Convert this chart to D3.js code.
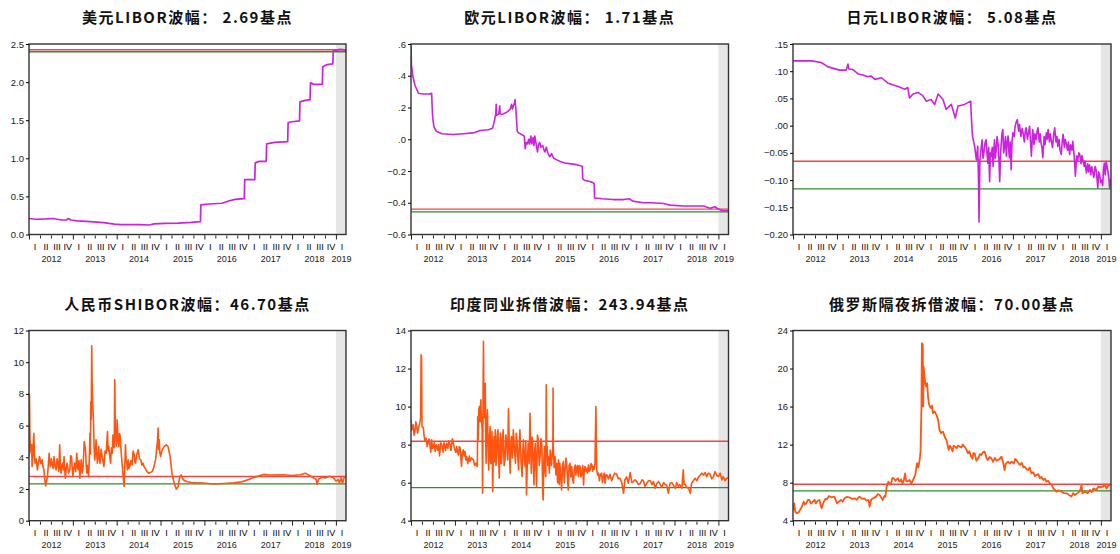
<!DOCTYPE html>
<html>
<head>
<meta charset="utf-8">
<script src="https://cdn.jsdelivr.net/npm/d3@7"></script>
<style>
  body { margin: 0; background: #fff; }
  .tick text { font-family: "Liberation Sans", Arial, sans-serif; fill: #222; }
  .title { font-family: "Noto Sans CJK SC", sans-serif; font-weight: 700; font-size: 15px; fill: #111; }
</style>
</head>
<body>
<svg id="chart"></svg>
<script>
var svgWidth = 1120;
var svgHeight = 554;

// ---- data (decimal year, rate %) ----
var titles = ["美元LIBOR波幅： 2.69基点", "欧元LIBOR波幅： 1.71基点", "日元LIBOR波幅： 5.08基点",
              "人民币SHIBOR波幅：46.70基点", "印度同业拆借波幅：243.94基点", "俄罗斯隔夜拆借波幅：70.00基点"];

// [max, min] of the shaded 2019 window
var usdBand = [2.425, 2.398];
var eurBand = [-0.440, -0.457];
var jpyBand = [-0.0655, -0.1163];
var cnyBand = [2.785, 2.318];
var inrBand = [8.18, 5.74];
var rubBand = [7.83, 7.13];

var usdLibor = [[2012.00,0.21],[2012.15,0.20],[2012.40,0.205],[2012.55,0.21],[2012.75,0.19],[2012.85,0.19],[2012.90,0.21],
  [2012.95,0.19],[2013.10,0.18],[2013.40,0.17],[2013.70,0.155],[2013.95,0.135],[2014.10,0.13],[2014.50,0.13],[2014.75,0.125],
  [2014.85,0.14],[2015.10,0.145],[2015.40,0.15],[2015.70,0.16],[2015.91,0.17],[2015.92,0.39],[2016.10,0.40],[2016.40,0.41],
  [2016.55,0.44],[2016.70,0.46],[2016.91,0.47],[2016.92,0.72],[2017.15,0.72],[2017.16,0.94],[2017.25,0.96],[2017.41,0.96],
  [2017.42,1.19],[2017.60,1.21],[2017.90,1.22],[2017.91,1.47],[2018.00,1.48],[2018.17,1.49],[2018.18,1.74],[2018.30,1.76],
  [2018.41,1.77],[2018.42,1.99],[2018.50,1.97],[2018.69,1.97],[2018.70,2.20],[2018.80,2.23],[2018.93,2.24],[2018.94,2.41],
  [2019.00,2.42],[2019.10,2.43],[2019.23,2.42]];

var eurLibor = [[2012.00,0.59],[2012.01,0.47],[2012.04,0.40],[2012.09,0.34],[2012.17,0.29],[2012.28,0.285],[2012.43,0.285],
  [2012.47,0.29],[2012.49,0.15],[2012.52,0.08],[2012.58,0.05],[2012.70,0.035],[2012.96,0.03],[2013.19,0.035],[2013.42,0.04],
  [2013.57,0.055],[2013.76,0.06],[2013.86,0.07],[2013.91,0.13],[2013.93,0.16],[2013.94,0.22],[2013.95,0.15],[2014.00,0.16],
  [2014.02,0.21],[2014.03,0.16],[2014.07,0.155],[2014.18,0.17],[2014.26,0.19],[2014.29,0.22],[2014.31,0.19],[2014.33,0.21],
  [2014.36,0.23],[2014.37,0.25],[2014.39,0.18],[2014.42,0.05],[2014.45,0.04],[2014.52,0.03],[2014.58,0.02],[2014.60,-0.06],
  [2014.62,-0.02],[2014.65,-0.03],[2014.68,0.0],[2014.70,-0.03],[2014.73,0.02],[2014.75,-0.03],[2014.78,0.01],[2014.80,-0.04],
  [2014.82,0.02],[2014.85,-0.03],[2014.88,-0.08],[2014.90,-0.04],[2014.93,-0.02],[2014.96,-0.05],[2015.00,-0.04],[2015.03,-0.07],
  [2015.05,-0.08],[2015.08,-0.05],[2015.12,-0.09],[2015.16,-0.11],[2015.20,-0.09],[2015.25,-0.12],[2015.32,-0.13],[2015.40,-0.14],
  [2015.50,-0.15],[2015.65,-0.155],[2015.77,-0.16],[2015.90,-0.17],[2015.91,-0.25],[2015.96,-0.26],[2016.05,-0.265],[2016.12,-0.27],
  [2016.17,-0.28],[2016.18,-0.37],[2016.35,-0.375],[2016.60,-0.38],[2016.84,-0.38],[2016.97,-0.375],[2017.05,-0.39],[2017.29,-0.40],
  [2017.50,-0.40],[2017.75,-0.405],[2017.90,-0.415],[2018.20,-0.42],[2018.66,-0.42],[2018.81,-0.435],[2018.92,-0.425],[2019.00,-0.44],
  [2019.10,-0.45],[2019.23,-0.45]];

var jpyLibor = [[2012.00,0.119],[2012.42,0.119],[2012.64,0.116],[2012.80,0.108],[2013.06,0.102],[2013.21,0.102],[2013.25,0.113],
  [2013.27,0.104],[2013.36,0.103],[2013.48,0.095],[2013.59,0.093],[2013.70,0.090],[2013.78,0.091],[2013.86,0.085],[2014.01,0.088],
  [2014.16,0.078],[2014.39,0.072],[2014.54,0.067],[2014.61,0.070],[2014.65,0.051],[2014.73,0.058],[2014.84,0.061],[2014.95,0.055],
  [2015.03,0.045],[2015.14,0.048],[2015.22,0.039],[2015.30,0.058],[2015.41,0.048],[2015.48,0.030],[2015.60,0.039],[2015.69,0.014],
  [2015.75,0.036],[2015.90,0.039],[2016.04,0.045],[2016.05,0.024],[2016.08,-0.019],[2016.13,-0.038],[2016.17,-0.063],[2016.20,-0.038],
  [2016.22,-0.112],[2016.23,-0.177],[2016.25,-0.063],[2016.28,-0.040],[2016.30,-0.026],[2016.32,-0.060],[2016.34,-0.050],[2016.37,-0.030],
  [2016.39,-0.026],[2016.41,-0.050],[2016.43,-0.069],[2016.45,-0.040],[2016.47,-0.103],[2016.49,-0.050],[2016.51,-0.056],[2016.53,-0.040],
  [2016.55,-0.075],[2016.57,-0.040],[2016.58,-0.026],[2016.60,-0.060],[2016.62,-0.044],[2016.64,-0.020],[2016.66,-0.032],[2016.68,-0.060],
  [2016.70,-0.103],[2016.72,-0.050],[2016.73,-0.038],[2016.75,-0.015],[2016.77,-0.007],[2016.79,-0.050],[2016.81,-0.038],[2016.83,-0.020],
  [2016.85,-0.056],[2016.87,-0.030],[2016.89,-0.019],[2016.91,-0.050],[2016.92,-0.059],[2016.94,-0.030],[2016.96,-0.081],[2016.98,-0.030],
  [2017.00,-0.013],[2017.03,-0.020],[2017.05,-0.001],[2017.08,0.008],[2017.10,0.011],[2017.13,-0.010],[2017.15,0.002],[2017.18,-0.020],
  [2017.21,-0.005],[2017.23,-0.013],[2017.26,-0.030],[2017.28,-0.010],[2017.30,-0.004],[2017.33,-0.025],[2017.36,-0.010],[2017.38,-0.001],
  [2017.40,-0.030],[2017.42,-0.056],[2017.45,-0.007],[2017.48,-0.035],[2017.50,-0.015],[2017.53,-0.026],[2017.55,-0.010],[2017.57,-0.004],
  [2017.60,-0.030],[2017.62,-0.015],[2017.64,-0.032],[2017.66,-0.040],[2017.68,-0.059],[2017.71,-0.020],[2017.73,-0.035],[2017.76,-0.013],
  [2017.78,-0.025],[2017.80,-0.007],[2017.83,-0.030],[2017.85,-0.015],[2017.87,-0.026],[2017.90,-0.040],[2017.93,-0.015],[2017.95,-0.004],
  [2017.98,-0.030],[2018.00,-0.020],[2018.02,-0.038],[2018.05,-0.025],[2018.07,-0.045],[2018.10,-0.053],[2018.12,-0.030],[2018.14,-0.016],
  [2018.17,-0.040],[2018.19,-0.025],[2018.21,-0.032],[2018.24,-0.045],[2018.26,-0.030],[2018.29,-0.053],[2018.31,-0.035],[2018.34,-0.045],
  [2018.36,-0.029],[2018.38,-0.045],[2018.40,-0.063],[2018.42,-0.093],[2018.45,-0.056],[2018.47,-0.065],[2018.50,-0.050],[2018.52,-0.053],
  [2018.55,-0.070],[2018.57,-0.055],[2018.59,-0.063],[2018.62,-0.075],[2018.64,-0.065],[2018.67,-0.087],[2018.70,-0.070],[2018.72,-0.085],
  [2018.74,-0.072],[2018.77,-0.090],[2018.79,-0.075],[2018.82,-0.087],[2018.84,-0.095],[2018.87,-0.075],[2018.89,-0.081],[2018.91,-0.095],
  [2018.93,-0.115],[2018.95,-0.085],[2018.97,-0.090],[2019.00,-0.105],[2019.02,-0.100],[2019.04,-0.110],[2019.06,-0.080],[2019.08,-0.069],
  [2019.10,-0.090],[2019.12,-0.066],[2019.14,-0.075],[2019.16,-0.084],[2019.18,-0.095],[2019.20,-0.115],[2019.21,-0.100],[2019.23,-0.110]];

var cnyShibor = [[2012.00,4.05],[2012.01,7.94],[2012.02,5.6],[2012.025,4.89],[2012.04,4.5],[2012.05,4.26],[2012.06,4.8],[2012.07,3.42],
  [2012.09,4.2],[2012.11,5.52],[2012.125,4.1],[2012.14,3.63],[2012.165,3.9],[2012.19,3.21],[2012.215,3.7],[2012.24,4.05],[2012.27,3.6],
  [2012.30,3.84],[2012.32,3.4],[2012.34,3.21],[2012.36,2.6],[2012.38,2.20],[2012.40,2.5],[2012.42,2.79],[2012.44,3.5],[2012.46,4.26],
  [2012.475,3.6],[2012.49,3.42],[2012.51,3.9],[2012.53,3.52],[2012.55,3.3],[2012.57,4.05],[2012.595,3.4],[2012.62,3.21],[2012.64,3.9],
  [2012.66,3.63],[2012.68,3.1],[2012.70,4.79],[2012.715,3.5],[2012.73,3.00],[2012.75,3.5],[2012.77,3.63],[2012.785,3.2],[2012.80,4.05],
  [2012.815,3.2],[2012.83,2.68],[2012.85,3.3],[2012.87,3.63],[2012.90,3.0],[2012.93,3.21],[2012.95,4.1],[2012.97,4.05],[2012.985,3.3],
  [2013.00,2.79],[2013.02,3.3],[2013.04,3.63],[2013.065,3.1],[2013.09,4.26],[2013.105,3.4],[2013.12,3.21],[2013.14,3.8],[2013.16,2.68],
  [2013.175,3.3],[2013.19,3.84],[2013.21,3.0],[2013.23,3.21],[2013.26,5.0],[2013.29,4.47],[2013.305,3.5],[2013.32,3.00],[2013.34,3.5],
  [2013.36,2.79],[2013.375,3.9],[2013.39,5.52],[2013.40,4.2],[2013.41,7.50],[2013.42,6.4],[2013.43,11.04],[2013.44,8.8],[2013.45,7.84],
  [2013.46,7.0],[2013.47,6.37],[2013.485,4.6],[2013.50,3.84],[2013.515,4.4],[2013.53,5.10],[2013.545,4.2],[2013.56,3.63],[2013.575,4.1],
  [2013.59,4.68],[2013.605,3.9],[2013.62,3.63],[2013.645,4.5],[2013.67,4.05],[2013.69,3.7],[2013.71,3.42],[2013.735,4.4],[2013.76,4.26],
  [2013.775,4.9],[2013.79,5.63],[2013.805,4.4],[2013.82,4.68],[2013.84,4.1],[2013.86,3.63],[2013.88,4.6],[2013.90,4.26],[2013.915,5.4],
  [2013.93,5.10],[2013.945,4.6],[2013.956,8.89],[2013.968,5.8],[2013.98,5.31],[2013.995,4.7],[2014.01,6.37],[2014.03,5.1],[2014.05,4.68],
  [2014.065,5.5],[2014.08,5.31],[2014.095,4.6],[2014.11,4.05],[2014.13,3.4],[2014.15,2.68],[2014.17,2.16],[2014.185,3.4],[2014.20,4.79],
  [2014.215,3.8],[2014.23,3.63],[2014.245,3.2],[2014.26,3.84],[2014.28,3.3],[2014.30,3.42],[2014.325,3.8],[2014.35,3.52],[2014.375,4.4],
  [2014.40,4.16],[2014.415,3.7],[2014.43,3.63],[2014.46,4.2],[2014.49,4.47],[2014.52,3.9],[2014.55,3.84],[2014.575,3.5],[2014.60,3.63],
  [2014.625,3.4],[2014.65,3.31],[2014.69,3.1],[2014.73,3.00],[2014.77,3.05],[2014.81,3.10],[2014.84,3.3],[2014.87,3.63],[2014.89,3.9],
  [2014.91,4.47],[2014.93,5.0],[2014.945,5.84],[2014.955,4.5],[2014.97,5.10],[2014.985,4.3],[2015.00,4.05],[2015.02,4.3],[2015.04,4.47],
  [2015.08,4.68],[2015.13,4.79],[2015.17,4.68],[2015.22,4.05],[2015.26,3.00],[2015.31,2.37],[2015.36,1.99],[2015.40,2.16],[2015.44,2.79],
  [2015.47,2.89],[2015.52,2.58],[2015.59,2.47],[2015.70,2.41],[2015.86,2.37],[2015.90,2.39],[2016.21,2.32],[2016.45,2.35],[2016.67,2.39],
  [2016.85,2.45],[2017.01,2.60],[2017.15,2.75],[2017.35,2.92],[2017.50,2.88],[2017.81,2.90],[2018.00,2.85],[2018.19,2.90],[2018.30,3.00],
  [2018.40,2.85],[2018.46,2.75],[2018.55,2.60],[2018.57,2.30],[2018.60,2.60],[2018.68,2.75],[2018.76,2.70],[2018.85,2.80],[2018.95,2.70],
  [2019.00,2.50],[2019.05,2.60],[2019.08,2.40],[2019.12,2.70],[2019.15,2.35],[2019.19,2.75],[2019.23,2.80]];

var inrCall = [[2012.00,9.30],[2012.02,8.78],[2012.05,9.04],[2012.07,8.5],[2012.09,8.69],[2012.11,9.2],[2012.13,8.95],[2012.15,8.6],
  [2012.17,8.86],[2012.19,9.04],[2012.22,9.39],[2012.23,12.72],[2012.24,12.64],[2012.25,8.95],[2012.28,8.9],[2012.30,8.43],[2012.32,8.2],
  [2012.34,8.34],[2012.37,7.9],[2012.39,8.16],[2012.41,8.3],[2012.43,7.99],[2012.45,7.6],[2012.47,8.25],[2012.49,7.8],[2012.51,7.90],
  [2012.53,8.1],[2012.55,7.64],[2012.58,7.99],[2012.61,7.7],[2012.63,8.0],[2012.65,7.41],[2012.68,8.1],[2012.70,7.99],[2012.73,7.6],
  [2012.75,8.1],[2012.77,7.90],[2012.79,7.7],[2012.81,8.07],[2012.84,7.8],[2012.86,8.2],[2012.89,7.99],[2012.91,7.7],[2012.94,8.3],
  [2012.96,8.11],[2012.98,7.9],[2013.00,7.72],[2013.02,7.6],[2013.04,7.90],[2013.06,7.6],[2013.08,7.46],[2013.10,7.9],[2013.12,7.81],
  [2013.135,7.3],[2013.15,6.85],[2013.17,7.6],[2013.19,7.72],[2013.21,7.4],[2013.23,7.64],[2013.25,7.2],[2013.27,7.37],[2013.29,7.0],
  [2013.31,7.20],[2013.33,7.4],[2013.34,7.11],[2013.38,7.3],[2013.42,7.20],[2013.45,6.9],[2013.48,7.02],[2013.51,6.85],[2013.52,9.48],
  [2013.53,8.25],[2013.545,9.9],[2013.56,10.0],[2013.575,9.2],[2013.59,10.36],[2013.60,9.6],[2013.62,8.78],[2013.63,5.44],[2013.64,10.2],
  [2013.65,13.43],[2013.66,10.53],[2013.675,9.4],[2013.69,11.23],[2013.70,8.6],[2013.71,7.02],[2013.725,9.1],[2013.74,9.83],[2013.755,7.9],
  [2013.77,6.67],[2013.785,8.3],[2013.80,8.95],[2013.815,7.0],[2013.83,7.37],[2013.845,8.7],[2013.86,5.53],[2013.875,7.6],[2013.89,8.43],
  [2013.905,7.1],[2013.92,8.78],[2013.935,6.9],[2013.95,7.37],[2013.965,8.5],[2013.98,8.78],[2013.995,7.5],[2014.01,6.23],[2014.025,7.9],
  [2014.04,8.60],[2014.055,7.0],[2014.07,7.37],[2014.085,8.4],[2014.10,8.78],[2014.12,6.9],[2014.14,7.20],[2014.16,8.5],[2014.18,8.07],
  [2014.20,7.2],[2014.22,9.88],[2014.24,7.6],[2014.26,6.50],[2014.275,8.1],[2014.29,8.43],[2014.31,7.3],[2014.33,8.78],[2014.355,7.8],
  [2014.38,7.02],[2014.395,8.6],[2014.41,8.25],[2014.43,7.4],[2014.45,6.67],[2014.465,8.0],[2014.48,8.78],[2014.505,7.1],[2014.53,6.32],
  [2014.545,7.6],[2014.56,8.25],[2014.58,7.3],[2014.60,6.85],[2014.615,8.2],[2014.63,5.36],[2014.65,7.2],[2014.67,8.07],[2014.69,7.0],
  [2014.71,9.65],[2014.725,7.9],[2014.74,6.50],[2014.755,8.4],[2014.77,8.07],[2014.785,7.0],[2014.80,5.88],[2014.815,7.6],[2014.83,8.07],
  [2014.845,6.8],[2014.86,5.79],[2014.88,8.5],[2014.90,8.25],[2014.92,6.9],[2014.94,7.37],[2014.96,8.3],[2014.98,7.99],[2015.00,5.44],
  [2015.01,5.09],[2015.025,7.2],[2015.04,7.90],[2015.055,6.6],[2015.07,6.32],[2015.08,11.15],[2015.09,7.6],[2015.10,7.90],[2015.115,6.9],
  [2015.13,7.37],[2015.15,6.5],[2015.17,7.72],[2015.20,6.9],[2015.23,7.90],[2015.235,10.97],[2015.24,7.90],[2015.26,6.8],[2015.28,7.37],
  [2015.30,6.4],[2015.32,7.02],[2015.34,6.0],[2015.36,7.20],[2015.375,5.9],[2015.39,7.02],[2015.41,6.3],[2015.43,5.62],[2015.45,6.9],
  [2015.47,7.11],[2015.49,6.0],[2015.51,6.67],[2015.53,7.3],[2015.55,6.85],[2015.565,6.2],[2015.58,5.62],[2015.60,6.9],[2015.62,7.02],
  [2015.64,6.3],[2015.66,6.85],[2015.68,6.2],[2015.70,5.97],[2015.72,6.8],[2015.74,6.93],[2015.755,6.4],[2015.77,6.76],[2015.79,6.9],
  [2015.81,6.32],[2015.83,6.9],[2015.85,6.85],[2015.87,6.3],[2015.89,6.50],[2015.91,6.9],[2015.93,5.88],[2015.945,6.7],[2015.96,6.85],
  [2015.98,6.6],[2016.00,6.76],[2016.02,6.5],[2016.04,6.93],[2016.06,6.6],[2016.08,6.67],[2016.10,7.0],[2016.12,6.93],[2016.135,6.6],
  [2016.15,6.85],[2016.17,6.7],[2016.19,7.02],[2016.21,10.00],[2016.23,6.67],[2016.25,6.4],[2016.27,6.50],[2016.29,6.1],[2016.31,6.41],
  [2016.34,6.50],[2016.36,6.0],[2016.38,6.32],[2016.40,6.5],[2016.42,5.97],[2016.44,6.4],[2016.46,6.41],[2016.50,6.2],[2016.53,6.44],
  [2016.57,6.1],[2016.60,6.30],[2016.64,6.5],[2016.68,6.46],[2016.72,6.2],[2016.76,6.23],[2016.80,6.0],[2016.84,5.44],[2016.87,6.14],
  [2016.91,6.3],[2016.95,5.97],[2016.99,6.53],[2017.03,6.0],[2017.06,6.06],[2017.10,6.15],[2017.14,6.06],[2017.18,5.9],[2017.22,5.95],
  [2017.26,6.15],[2017.29,6.11],[2017.33,5.8],[2017.37,5.97],[2017.41,6.1],[2017.45,6.10],[2017.49,5.9],[2017.52,6.06],[2017.56,5.71],
  [2017.60,5.97],[2017.64,6.05],[2017.67,5.93],[2017.71,5.75],[2017.75,6.00],[2017.79,5.9],[2017.82,5.88],[2017.86,5.44],[2017.90,5.97],
  [2017.94,6.0],[2017.98,5.85],[2018.02,5.7],[2018.05,6.00],[2018.09,5.8],[2018.12,5.90],[2018.17,5.71],[2018.20,6.67],[2018.22,5.9],
  [2018.24,5.93],[2018.28,5.75],[2018.32,5.71],[2018.36,5.44],[2018.39,5.97],[2018.43,6.1],[2018.47,6.23],[2018.51,6.1],[2018.55,6.32],
  [2018.59,6.4],[2018.62,6.50],[2018.66,6.4],[2018.70,6.53],[2018.73,6.32],[2018.77,6.5],[2018.81,6.46],[2018.85,6.2],[2018.89,6.32],
  [2018.92,6.58],[2018.96,6.4],[2019.00,6.32],[2019.04,6.5],[2019.08,6.14],[2019.11,6.32],[2019.15,6.1],[2019.19,6.23],[2019.23,6.25]];

var rubOvernight = [[2012.00,5.12],[2012.03,5.82],[2012.05,4.95],[2012.09,4.77],[2012.14,4.95],[2012.20,5.47],[2012.24,6.00],
  [2012.27,5.7],[2012.30,5.82],[2012.34,6.2],[2012.37,6.18],[2012.41,5.8],[2012.45,6.00],[2012.49,6.2],[2012.52,5.82],[2012.56,6.1],
  [2012.60,6.18],[2012.65,5.30],[2012.70,6.00],[2012.74,6.3],[2012.77,6.25],[2012.82,6.6],[2012.87,6.46],[2012.94,6.53],[2013.00,5.82],
  [2013.04,6.00],[2013.09,6.18],[2013.13,6.0],[2013.17,6.35],[2013.22,6.5],[2013.28,6.46],[2013.34,6.3],[2013.40,6.35],[2013.45,6.2],
  [2013.51,6.53],[2013.57,6.3],[2013.62,6.35],[2013.67,6.1],[2013.72,6.18],[2013.74,5.47],[2013.78,6.25],[2013.84,6.4],[2013.89,6.53],
  [2013.93,6.8],[2013.97,6.70],[2014.01,6.4],[2014.04,6.18],[2014.08,6.6],[2014.10,6.53],[2014.13,7.58],[2014.17,8.11],[2014.20,7.8],
  [2014.23,7.93],[2014.26,8.5],[2014.29,8.46],[2014.33,8.2],[2014.38,8.46],[2014.42,8.11],[2014.46,8.35],[2014.49,7.9],[2014.52,8.28],
  [2014.55,8.98],[2014.57,8.2],[2014.60,8.11],[2014.65,8.28],[2014.69,7.9],[2014.73,8.28],[2014.78,8.81],[2014.82,10.04],[2014.85,9.6],
  [2014.88,10.39],[2014.90,11.26],[2014.92,16.00],[2014.93,22.67],[2014.95,22.49],[2014.96,16.00],[2014.97,20.21],[2014.99,19.16],
  [2015.01,18.3],[2015.03,18.11],[2015.05,18.46],[2015.07,17.05],[2015.09,16.3],[2015.11,16.00],[2015.14,15.82],[2015.16,16.1],
  [2015.18,15.30],[2015.22,15.5],[2015.26,15.12],[2015.30,14.60],[2015.33,13.54],[2015.37,13.2],[2015.41,13.37],[2015.45,12.8],
  [2015.49,12.49],[2015.54,11.44],[2015.57,11.9],[2015.60,11.61],[2015.63,11.3],[2015.65,11.9],[2015.68,11.79],[2015.72,11.6],
  [2015.75,11.9],[2015.79,11.79],[2015.83,11.7],[2015.86,12.0],[2015.90,11.79],[2015.94,11.5],[2015.98,11.09],[2016.01,11.3],
  [2016.05,10.74],[2016.08,10.5],[2016.10,11.1],[2016.13,11.09],[2016.17,10.3],[2016.21,10.56],[2016.25,11.0],[2016.28,10.91],
  [2016.32,11.2],[2016.36,11.26],[2016.40,10.6],[2016.43,10.39],[2016.47,10.7],[2016.51,10.56],[2016.55,10.2],[2016.59,10.6],
  [2016.63,10.3],[2016.66,10.39],[2016.70,10.5],[2016.74,10.74],[2016.78,10.1],[2016.81,9.33],[2016.84,10.0],[2016.89,10.21],
  [2016.93,10.0],[2016.97,10.21],[2017.02,10.0],[2017.05,10.5],[2017.08,10.39],[2017.12,10.1],[2017.16,9.86],[2017.20,10.1],
  [2017.24,9.6],[2017.27,9.68],[2017.31,9.4],[2017.35,9.33],[2017.38,9.6],[2017.42,8.98],[2017.46,9.1],[2017.50,8.7],[2017.54,8.81],
  [2017.58,8.9],[2017.61,8.46],[2017.65,8.6],[2017.69,8.28],[2017.73,8.4],[2017.76,8.11],[2017.80,8.2],[2017.84,7.93],[2017.88,7.8],
  [2017.92,7.40],[2017.99,7.05],[2018.04,7.2],[2018.10,7.05],[2018.16,6.9],[2018.22,6.88],[2018.28,6.7],[2018.33,6.53],[2018.37,6.9],
  [2018.41,6.70],[2018.48,6.95],[2018.52,7.1],[2018.56,7.75],[2018.58,6.88],[2018.64,7.05],[2018.70,6.9],[2018.75,7.23],[2018.79,7.0],
  [2018.83,7.40],[2018.90,7.23],[2018.94,7.6],[2018.98,7.51],[2019.05,7.58],[2019.09,7.8],[2019.13,7.40],[2019.17,7.7],[2019.21,7.75]];

var romanQuarters = ["I", "II", "III", "IV"];
var yearLabels = [2012, 2013, 2014, 2015, 2016, 2017, 2018, 2019];

// ---- layout ----
var colX = [[29, 346], [411, 728.5], [793, 1111]];
var rowY = [[44, 234.5], [330.5, 520.7]];
var tStart = 2012, tEnd = 2019.23, shadeStart = 2019;

var dropZero = function(fmt) {
  return function(v) { return d3.format(fmt)(v).replace(/^(-?)0\./, "$1."); };
};

var magenta = "#cc22dd", orange = "#ff5511";
var panels = [
  {data: usdLibor, band: usdBand, yDomain: [0, 2.5], yTicks: d3.range(0, 2.51, 0.5), fmt: d3.format(".1f"), color: magenta, width: 1.7},
  {data: eurLibor, band: eurBand, yDomain: [-0.6, 0.6], yTicks: d3.range(-0.6, 0.61, 0.2), fmt: dropZero(".1f"), color: magenta, width: 1.6},
  {data: jpyLibor, band: jpyBand, yDomain: [-0.2, 0.15], yTicks: d3.range(-0.2, 0.151, 0.05), fmt: dropZero(".2f"), color: magenta, width: 1.6},
  {data: cnyShibor, band: cnyBand, yDomain: [0, 12], yTicks: d3.range(0, 13, 2), fmt: d3.format("d"), color: orange, width: 1.6},
  {data: inrCall, band: inrBand, yDomain: [4, 14], yTicks: d3.range(4, 15, 2), fmt: d3.format("d"), color: orange, width: 1.6},
  {data: rubOvernight, band: rubBand, yDomain: [4, 24], yTicks: d3.range(4, 25, 4), fmt: d3.format("d"), color: orange, width: 1.8}
];

var svg = d3.select("#chart")
  .attr("width", svgWidth)
  .attr("height", svgHeight);

panels.forEach(function(p, i) {
  var cx = colX[i % 3], ry = rowY[Math.floor(i / 3)];
  var g = svg.append("g");

  var x = d3.scaleLinear().domain([tStart, tEnd]).range(cx);
  var y = d3.scaleLinear().domain(p.yDomain).range([ry[1], ry[0]]);

  // title
  g.append("text")
    .attr("class", "title")
    .attr("x", (cx[0] + cx[1]) / 2)
    .attr("y", ry[0] - 21)
    .attr("text-anchor", "middle")
    .style("letter-spacing", "1.5px")
    .text(titles[i]);

  // shaded 2019 window
  g.append("rect")
    .attr("x", x(shadeStart))
    .attr("y", ry[0])
    .attr("width", x(tEnd) - x(shadeStart))
    .attr("height", ry[1] - ry[0])
    .attr("fill", "#e6e6e6");

  var clipId = "clip" + i;
  g.append("clipPath").attr("id", clipId)
    .append("rect")
    .attr("x", cx[0]).attr("y", ry[0])
    .attr("width", cx[1] - cx[0]).attr("height", ry[1] - ry[0]);

  // band lines: red = max, green = min
  g.append("line")
    .attr("x1", cx[0]).attr("x2", cx[1])
    .attr("y1", y(p.band[0])).attr("y2", y(p.band[0]))
    .attr("stroke", "#f04545").attr("stroke-width", 1.4);
  g.append("line")
    .attr("x1", cx[0]).attr("x2", cx[1])
    .attr("y1", y(p.band[1])).attr("y2", y(p.band[1]))
    .attr("stroke", "#2e8e2e").attr("stroke-width", 1.3);

  // series
  var line = d3.line()
    .x(d => x(d[0]))
    .y(d => y(d[1]));
  g.append("path")
    .datum(p.data)
    .attr("clip-path", "url(#" + clipId + ")")
    .attr("fill", "none")
    .attr("stroke", p.color)
    .attr("stroke-width", p.width)
    .attr("stroke-linejoin", "round")
    .attr("d", line);

  // frame
  g.append("rect")
    .attr("x", cx[0]).attr("y", ry[0])
    .attr("width", cx[1] - cx[0]).attr("height", ry[1] - ry[0])
    .attr("fill", "none")
    .attr("stroke", "#333")
    .attr("stroke-width", 1.4);

  // y axis
  var yAxis = g.append("g")
    .attr("transform", `translate(${cx[0]},0)`)
    .call(d3.axisLeft(y).tickValues(p.yTicks).tickFormat(p.fmt).tickSize(3).tickPadding(2));
  yAxis.select(".domain").remove();
  yAxis.selectAll("text").style("font-size", "9.5px");

  // x axis: year ticks, quarter ticks, roman quarter labels, year labels
  var quarterStarts = d3.range(tStart, 2019.01, 0.25).filter(t => t % 1 !== 0);
  var quarterMids = d3.range(tStart + 0.125, tEnd, 0.25);
  var yearMids = yearLabels.map(yr => (yr + Math.min(yr + 1, tEnd)) / 2);

  var xYear = g.append("g")
    .attr("transform", `translate(0,${ry[1]})`)
    .call(d3.axisBottom(x).tickValues(yearLabels).tickSize(5).tickFormat(""));
  var xQuarter = g.append("g")
    .attr("transform", `translate(0,${ry[1] + 1})`)
    .call(d3.axisBottom(x).tickValues(quarterStarts).tickSize(3).tickFormat(""));
  var xRoman = g.append("g")
    .attr("transform", `translate(0,${ry[1]})`)
    .call(d3.axisBottom(x).tickValues(quarterMids).tickSize(0).tickPadding(9)
      .tickFormat((t, k) => romanQuarters[k % 4]));
  var xYearLab = g.append("g")
    .attr("transform", `translate(0,${ry[1]})`)
    .call(d3.axisBottom(x).tickValues(yearMids).tickSize(0).tickPadding(21)
      .tickFormat((t, k) => yearLabels[k]));
  [xYear, xQuarter, xRoman, xYearLab].forEach(a => a.select(".domain").remove());
  xYear.selectAll("line").attr("stroke", "#222");
  xQuarter.selectAll("line").attr("stroke", "#222");
  xRoman.selectAll("text").style("font-size", "9px").style("fill", "#000");
  xYearLab.selectAll("text").style("font-size", "9px");
});
</script>
</body>
</html>
